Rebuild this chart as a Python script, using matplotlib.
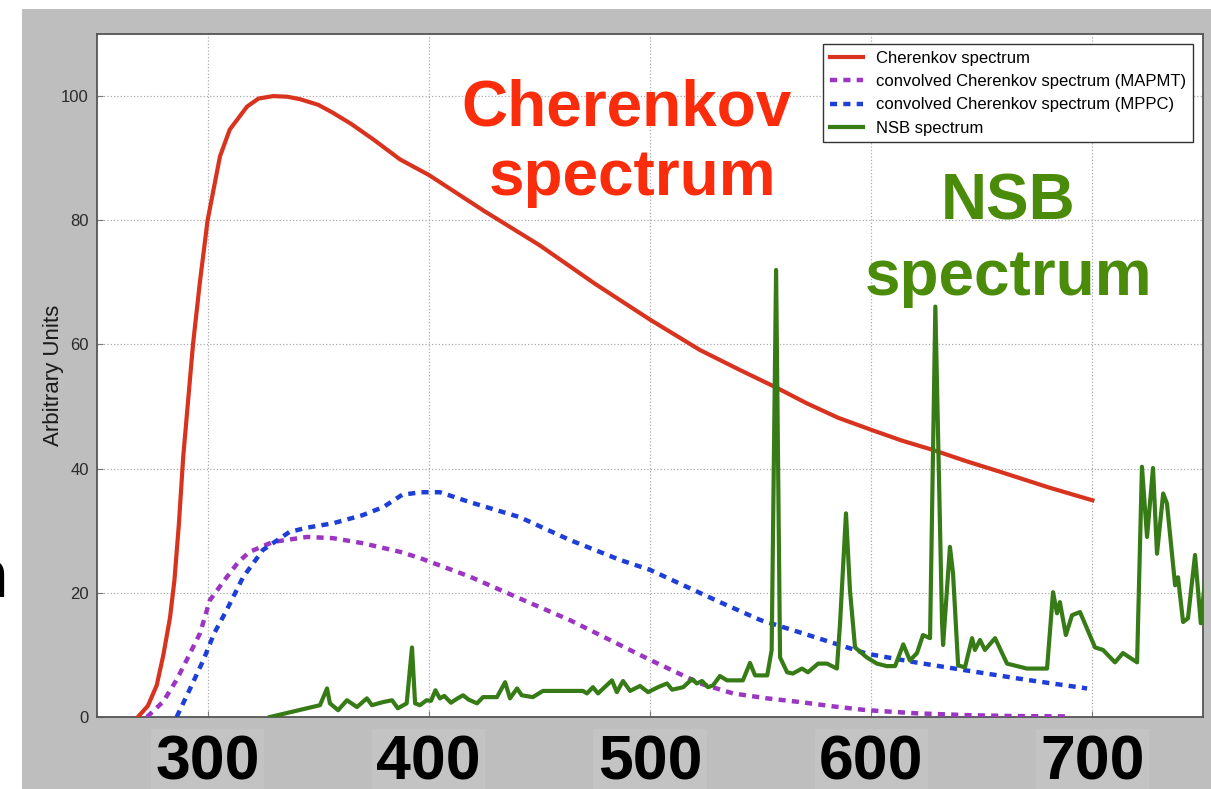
import matplotlib.pyplot as plt
from matplotlib.patches import Rectangle

# Cherenkov spectrum (wavelength in nm, arbitrary units)
cher_wl = [268.5, 273, 277, 280, 283, 285, 287, 289, 293.4, 296.5, 300, 305.6, 310,
           317.8, 323, 329.6, 336, 341.8, 350, 356.7, 365, 375, 387, 400, 425, 450,
           475, 500, 522.6, 540, 557.4, 571, 585, 600.4, 614, 628, 643, 658.2, 680, 700]
cher_val = [0, 1.8, 5.1, 10, 16, 22, 31, 42, 60, 70, 80, 90.3, 94.6,
            98.3, 99.6, 100, 99.9, 99.5, 98.6, 97.3, 95.5, 93, 89.8, 87.3, 81.5, 76,
            69.8, 64, 59.1, 56, 53, 50.5, 48.2, 46.2, 44.5, 43, 41.2, 39.5, 37, 34.9]

# convolved with MAPMT response
mapmt_wl = [272.6, 280, 286, 291, 296.6, 301, 308.6, 314, 319, 329.6, 345, 356.7,
            370, 387, 396, 418.6, 441, 463.8, 486.4, 500, 522.6, 537.5, 553, 568,
            583, 598, 620, 643, 665, 688.5]
mapmt_val = [0, 2.5, 6, 9.5, 13.5, 18.8, 22.5, 25, 26.6, 28.2, 29, 28.8,
             28, 26.6, 25.6, 22.6, 19.1, 15.6, 11.6, 9.2, 5.4, 3.8, 3.0, 2.4,
             1.7, 1.1, 0.6, 0.3, 0.15, 0.1]

# convolved with MPPC response
mppc_wl = [286, 292, 298, 303, 308.6, 316, 325, 337, 345, 356.7, 370, 379.4, 388,
           396.5, 405, 418.6, 441, 463.8, 486.4, 500, 531.6, 550, 568, 598, 620,
           643, 670, 697.6]
mppc_val = [0, 4.5, 9.1, 13.5, 17.2, 22.5, 26.9, 29.8, 30.5, 31.2, 32.5, 33.8, 35.8,
            36.2, 36.2, 34.6, 32.2, 28.5, 25.3, 23.7, 18.5, 15.6, 13.6, 10.2, 8.8,
            7.5, 6, 4.6]

# night sky background
nsb_wl = [328.2, 350.8, 354, 355.3, 359, 363, 367.5, 372, 374.3, 379.3, 383.4, 386,
          390, 392.4, 393.8, 396, 399, 401, 403, 405, 407, 410, 413, 415.5, 418,
          421.8, 424.5, 430.8, 434.5, 436.7, 439.9, 442, 447, 451.6, 469.7, 471.5,
          474.2, 476.5, 482.8, 485, 487.8, 491, 495.5, 499.1, 503.6, 507.7, 510,
          515, 519, 521.2, 523.5, 526.2, 528.5, 531.6, 534.8, 542, 545.2, 547.5,
          553, 555, 557, 558.8, 562, 564.6, 568.7, 571.4, 576, 580, 584.5, 585.9,
          588.6, 590.4, 592.7, 598, 602.6, 607, 610.8, 614.5, 617.5, 620.7, 623.4,
          626.6, 629, 632, 632.5, 635.6, 637, 639.3, 642.4, 645.6, 646.9, 649.2,
          651.4, 656, 661.4, 670.4, 679.5, 682.2, 684, 685.3, 688, 690.8, 694.4,
          701.2, 704.8, 710.2, 713.8, 720.2, 722.4, 724.7, 727.4, 729.2, 732,
          733.7, 737.4, 738.7, 741, 743.2, 746.4, 749, 752]
nsb_val = [0, 1.9, 4.6, 2.2, 1.1, 2.7, 1.6, 3.0, 1.9, 2.4, 2.7, 1.4,
           2.2, 11.2, 2.2, 1.9, 2.7, 2.6, 4.3, 3.0, 3.4, 2.3, 3.0, 3.5, 2.8,
           2.2, 3.2, 3.2, 5.6, 3.0, 4.6, 3.5, 3.2, 4.2, 4.2, 3.8,
           4.8, 3.8, 5.9, 4.0, 5.8, 4.2, 5.0, 4.0, 4.8, 5.4, 4.4,
           4.8, 6.1, 5.4, 5.8, 4.8, 5.1, 6.6, 5.9, 5.9, 8.7, 6.7,
           6.7, 10.8, 72, 9.6, 7.2, 7.0, 7.8, 7.2, 8.6, 8.6, 7.8, 15,
           32.8, 20.4, 11.2, 9.6, 8.6, 8.2, 8.2, 11.7, 9.1, 10.3, 13.2,
           12.7, 66.1, 15.6, 11.6, 27.4, 23.1, 8.3, 8.0, 12.7, 10.8, 12.4,
           10.8, 12.7, 8.6, 7.8, 7.8, 20.1, 16.7, 18.5, 13.2, 16.4, 16.9,
           11.2, 10.8, 8.8, 10.3, 8.8, 40.3, 29, 40.1, 26.3, 36,
           34.4, 21.2, 22.5, 15.3, 15.9, 26.1, 15.1, 26]

x_ticks = [300, 400, 500, 600, 700]
y_ticks = [0, 20, 40, 60, 80, 100]

plt.rcParams['font.family'] = ['Liberation Sans', 'DejaVu Sans']

W, H = 1211, 789
fig = plt.figure(figsize=(W / 100, H / 100), dpi=100, facecolor='white')
# grey slide panel behind the plot
fig.add_artist(Rectangle((22 / W, 0), 1, 1 - 9 / H, transform=fig.transFigure,
                         facecolor='#bebebe', edgecolor='none', zorder=-5))

ax = fig.add_axes([97 / W, 1 - 717 / H, (1203 - 97) / W, (717 - 34) / H])
ax.set_facecolor('white')

ax.plot(cher_wl, cher_val, color='#d8331f', lw=3, label='Cherenkov spectrum', zorder=3)
ax.plot(mapmt_wl, mapmt_val, color='#9b35c2', lw=3.2, dashes=(1.6, 1.4),
        dash_capstyle='butt', label='convolved Cherenkov spectrum (MAPMT)', zorder=3)
ax.plot(mppc_wl, mppc_val, color='#1e3ed8', lw=3.2, dashes=(1.6, 1.4),
        dash_capstyle='butt', label='convolved Cherenkov spectrum (MPPC)', zorder=3)
ax.plot(nsb_wl, nsb_val, color='#377b17', lw=3, label='NSB spectrum', zorder=4)

ax.set_xlim(250, 750)
ax.set_ylim(0, 110)
ax.set_xticks(x_ticks)
ax.set_xticklabels([str(t) for t in x_ticks], fontsize=45, fontweight='bold',
                   color='black')
ax.set_yticks(y_ticks)
ax.set_yticklabels([str(t) for t in y_ticks], fontsize=12, color='#2a2a2a')
ax.tick_params(axis='x', direction='in', length=4, color='#777777', pad=12)
ax.tick_params(axis='y', direction='in', length=4, color='#777777', pad=6)
for lab in ax.get_xticklabels():
    lab.set_bbox(dict(facecolor='#c3c3c3', edgecolor='none', pad=3))

ax.grid(True, linestyle=':', color='#aaaaaa', lw=0.9)
ax.set_axisbelow(True)
for sp in ax.spines.values():
    sp.set_color('#555555')
    sp.set_linewidth(1.3)

ax.set_ylabel('Arbitrary Units', fontsize=16, color='#1a1a1a', labelpad=-2)

leg = ax.legend(loc='upper right', fontsize=12, fancybox=False, framealpha=1,
                edgecolor='#333333', borderaxespad=0.6, handlelength=2.0,
                labelspacing=0.5)
leg.get_frame().set_linewidth(1.0)

# slide annotations
fig.text(626 / W, 1 - 125 / H, 'Cherenkov', fontsize=46, fontweight='bold',
         color='#fb2c0b', ha='center', va='baseline')
fig.text(633 / W, 1 - 195 / H, 'spectrum', fontsize=46, fontweight='bold',
         color='#fb2c0b', ha='center', va='baseline')
fig.text(1008 / W, 1 - 220 / H, 'NSB', fontsize=46, fontweight='bold',
         color='#4b8b0a', ha='center', va='baseline')
fig.text(1009 / W, 1 - 295 / H, 'spectrum', fontsize=46, fontweight='bold',
         color='#4b8b0a', ha='center', va='baseline')
fig.text(8 / W, 1 - 597 / H, 'n', fontsize=50, fontweight='bold',
         color='black', ha='right', va='baseline')

fig.savefig('out.png', dpi=100, facecolor=fig.get_facecolor())
